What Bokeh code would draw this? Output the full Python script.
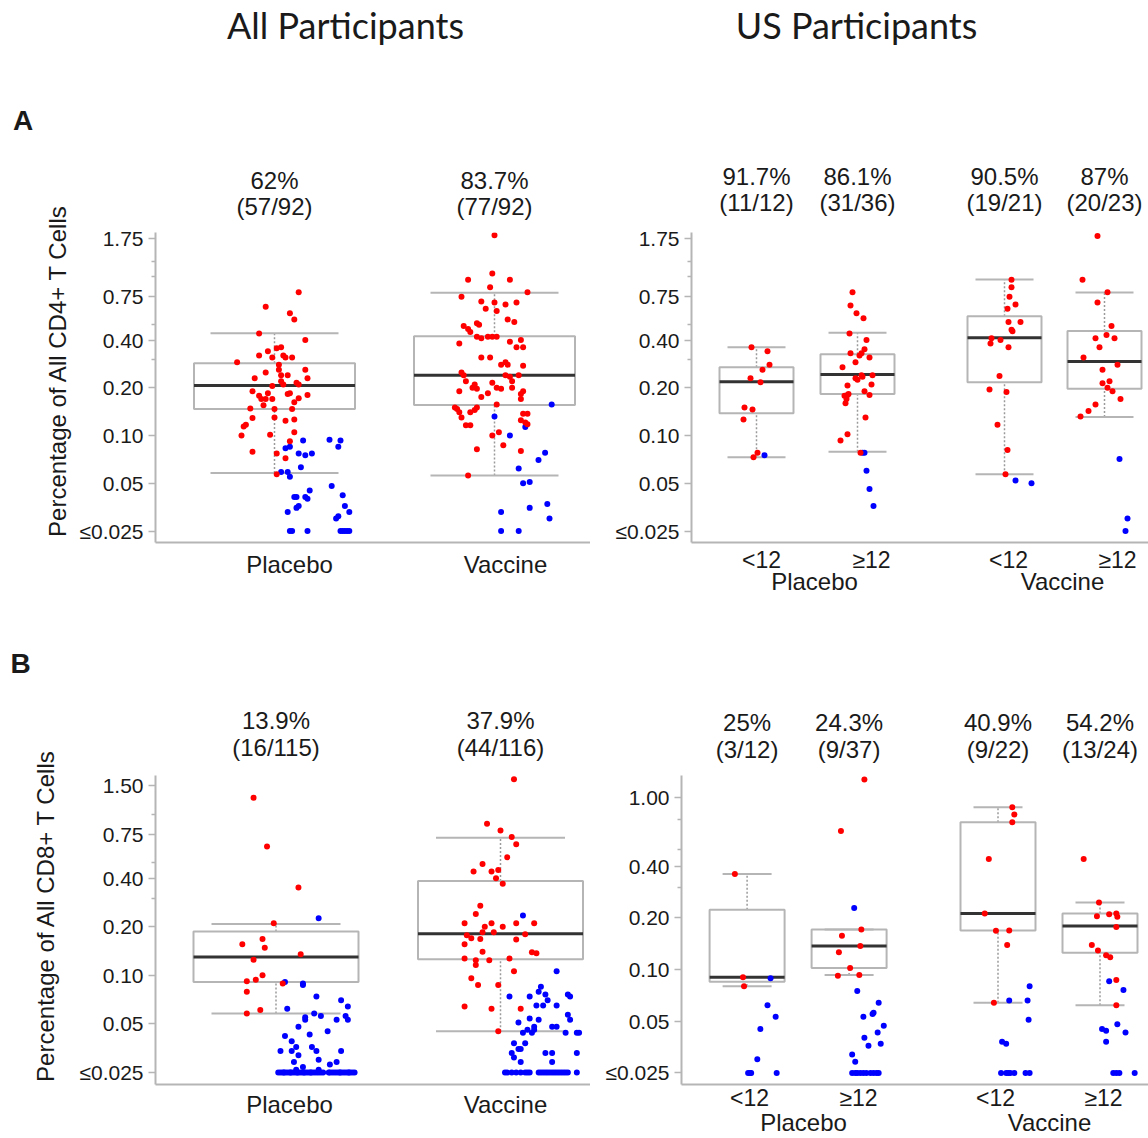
import math
from bokeh.plotting import figure
from bokeh.layouts import column, row
from bokeh.models import FixedTicker, CustomJSTickFormatter, Range1d, ColumnDataSource, LinearAxis
from bokeh.core.properties import value
from bokeh.embed import file_html
from bokeh.resources import INLINE

# ======================= DATA =======================
FLOOR = 0.025  # values at or below the limit are shown at 0.025

# ---- A: CD4+, all participants ----
cd4_all_groups = ["Placebo", "Vaccine"]
cd4_all_pct = ["62%", "83.7%"]
cd4_all_frac = ["(57/92)", "(77/92)"]
cd4_all_q1 = [0.147, 0.156]
cd4_all_med = [0.207, 0.240]
cd4_all_q3 = [0.286, 0.423]
cd4_all_lo = [0.058, 0.056]
cd4_all_hi = [0.442, 0.794]
# (jitter in category widths, value)
cd4_all_placebo_resp = [(0.11,0.80),(-0.04,0.65),(0.07,0.59),(0.09,0.54),(-0.07,0.44),(0.14,0.40),(0.03,0.36),(0.01,0.355),
    (-0.07,0.32),(-0.03,0.34),(-0.01,0.31),(0.04,0.32),(0.05,0.31),(0.08,0.31),(-0.17,0.29),(0.02,0.28),(0.14,0.26),
    (-0.04,0.25),(-0.09,0.23),(0.03,0.24),(0.06,0.24),(0.15,0.23),(0.03,0.22),(0.10,0.215),(0.11,0.21),(-0.01,0.205),
    (-0.10,0.19),(-0.06,0.17),(-0.03,0.185),(-0.04,0.17),(-0.01,0.17),(-0.05,0.155),(0.06,0.183),(0.07,0.185),(0.15,0.18),
    (0.11,0.172),(-0.11,0.148),(0.08,0.147),(0.00,0.147),(-0.10,0.129),(0.00,0.13),(0.05,0.124),(0.09,0.126),(-0.13,0.117),
    (-0.14,0.114),(-0.15,0.100),(-0.02,0.101),(0.09,0.105),(0.07,0.092),(-0.10,0.079),(0.01,0.077),(0.05,0.072),(0.01,0.057),
    (0.04,0.21),(0.02,0.26),(-0.07,0.178),(0.09,0.162)]
cd4_all_placebo_nonresp = [(0.13,0.093),(0.07,0.085),(0.05,0.083),(0.11,0.077),(0.14,0.075),(0.17,0.077),(0.12,0.063),
    (0.03,0.059),(0.06,0.059),(0.07,0.055),(0.25,0.094),(0.30,0.093),(0.29,0.085),(0.26,0.048),(0.16,0.045),(0.09,0.041),
    (0.10,0.041),(0.14,0.041),(0.15,0.040),(0.31,0.042),(0.11,0.036),(0.10,0.035),(0.06,0.033),(0.32,0.036),(0.34,0.033),
    (0.29,0.031),(0.28,0.030)]
cd4_all_placebo_floor = [0.07, 0.08, 0.15, 0.30, 0.31, 0.32, 0.33, 0.34]
cd4_all_vaccine_resp = [(0.00,1.83),(-0.01,1.05),(-0.12,0.96),(0.07,0.96),(-0.02,0.86),(-0.15,0.75),(0.15,0.80),(-0.06,0.70),
    (-0.04,0.63),(0.00,0.69),(0.01,0.61),(0.05,0.67),(0.10,0.69),(0.06,0.54),(0.09,0.52),(-0.14,0.49),(-0.12,0.47),
    (-0.08,0.51),(-0.07,0.50),(-0.11,0.45),(-0.08,0.42),(-0.06,0.41),(-0.03,0.42),(-0.01,0.42),(0.01,0.42),(-0.16,0.38),
    (0.07,0.39),(0.12,0.40),(0.10,0.36),(0.13,0.36),(-0.06,0.31),(-0.02,0.31),(0.05,0.29),(0.06,0.28),(0.13,0.275),
    (-0.15,0.25),(-0.14,0.24),(0.05,0.24),(0.07,0.235),(0.08,0.22),(-0.01,0.215),(-0.09,0.21),(-0.08,0.197),(-0.10,0.20),
    (0.01,0.20),(0.03,0.197),(0.08,0.20),(-0.16,0.19),(0.13,0.19),(0.12,0.183),(-0.03,0.185),(-0.06,0.175),(0.12,0.17),
    (0.01,0.157),(-0.08,0.150),(-0.09,0.145),(-0.17,0.147),(-0.16,0.14),(-0.11,0.14),(0.13,0.137),(0.15,0.137),(-0.15,0.13),
    (0.12,0.125),(0.14,0.121),(0.15,0.118),(-0.13,0.116),(-0.11,0.116),(0.02,0.105),(-0.01,0.10),(0.04,0.087),(-0.08,0.082),
    (0.12,0.080),(-0.12,0.056),(-0.13,0.22),(0.03,0.28),(-0.18,0.15),(0.11,0.24)]
cd4_all_vaccine_nonresp = [(0.00,0.132),(0.26,0.157),(0.14,0.113),(0.07,0.100),(0.23,0.078),(0.20,0.070),(0.11,0.062),
    (0.13,0.050),(0.16,0.051),(0.03,0.033),(0.16,0.035),(0.24,0.037),(0.25,0.030)]
cd4_all_vaccine_floor = [0.03, 0.11]

# ---- A: CD4+, US participants by age ----
cd4_us_sub = ["<12", "\u226512", "<12", "\u226512"]
cd4_us_groups = ["Placebo", "Vaccine"]
cd4_us_pct = ["91.7%", "86.1%", "90.5%", "87%"]
cd4_us_frac = ["(11/12)", "(31/36)", "(19/21)", "(20/23)"]
cd4_us_q1 = [0.138, 0.183, 0.217, 0.197]
cd4_us_med = [0.218, 0.243, 0.413, 0.293]
cd4_us_q3 = [0.270, 0.325, 0.566, 0.456]
cd4_us_lo = [0.073, 0.079, 0.057, 0.131]
cd4_us_hi = [0.360, 0.445, 0.964, 0.798]
cd4_us_p_lt12_resp = [(-0.05,0.36),(0.11,0.34),(0.13,0.28),(0.06,0.26),(-0.06,0.23),(0.04,0.217),(-0.12,0.15),(-0.04,0.146),
    (-0.13,0.126),(0.01,0.078),(-0.03,0.073)]
cd4_us_p_lt12_nonresp = [(0.08,0.075)]
cd4_us_p_ge12_resp = [(-0.05,0.80),(-0.07,0.66),(-0.01,0.59),(0.06,0.55),(-0.08,0.44),(0.09,0.40),(0.07,0.35),(-0.07,0.33),
    (0.02,0.32),(0.04,0.33),(0.12,0.31),(-0.15,0.27),(-0.02,0.29),(0.04,0.24),(-0.02,0.23),(0.15,0.24),(0.14,0.21),
    (-0.10,0.207),(0.00,0.225),(0.07,0.19),(-0.09,0.183),(-0.10,0.18),(0.12,0.18),(-0.11,0.17),(-0.12,0.16),(0.08,0.13),
    (-0.10,0.102),(-0.17,0.093),(0.03,0.078),(-0.13,0.178),(0.05,0.235)]
cd4_us_p_ge12_nonresp = [(0.07,0.078),(0.09,0.060),(0.12,0.046),(0.16,0.036),(0.05,0.078)]
cd4_us_v_lt12_resp = [(0.07,0.96),(0.07,0.86),(0.05,0.75),(0.11,0.67),(0.03,0.63),(0.04,0.52),(0.16,0.52),(0.07,0.465),
    (0.08,0.455),(-0.13,0.41),(-0.04,0.40),(-0.14,0.38),(0.04,0.36),(-0.05,0.237),(-0.15,0.195),(0.02,0.188),(-0.07,0.117),
    (0.03,0.081),(0.01,0.057)]
cd4_us_v_lt12_nonresp = [(0.11,0.052),(0.27,0.050)]
cd4_us_v_ge12_resp = [(-0.07,1.81),(-0.22,0.96),(0.03,0.80),(-0.07,0.69),(0.07,0.49),(0.02,0.43),(-0.09,0.41),(0.10,0.41),
    (-0.05,0.36),(-0.21,0.31),(0.13,0.28),(-0.02,0.26),(0.05,0.22),(-0.02,0.214),(0.03,0.20),(0.08,0.19),(0.16,0.17),
    (-0.09,0.157),(-0.16,0.143),(-0.24,0.132)]
cd4_us_v_ge12_nonresp = [(0.15,0.071),(0.23,0.030)]
cd4_us_v_ge12_floor = [0.21]

# ---- B: CD8+, all participants ----
cd8_all_groups = ["Placebo", "Vaccine"]
cd8_all_pct = ["13.9%", "37.9%"]
cd8_all_frac = ["(16/115)", "(44/116)"]
cd8_all_q1 = [0.091, 0.126]
cd8_all_med = [0.130, 0.181]
cd8_all_q3 = [0.187, 0.385]
cd8_all_lo = [0.058, 0.045]
cd8_all_hi = [0.208, 0.712]
cd8_all_placebo_resp = [(-0.10,1.26),(-0.04,0.63),(0.10,0.35),(-0.01,0.21),(-0.15,0.156),(-0.06,0.168),(-0.05,0.148),
    (0.11,0.135),(-0.10,0.125),(-0.13,0.092),(-0.09,0.094),(-0.06,0.100),(-0.13,0.079),(0.03,0.089),(-0.13,0.058),(-0.07,0.061)]
cd8_all_placebo_nonresp = [(0.19,0.226),(0.04,0.091),(0.12,0.087),(0.12,0.089),(0.18,0.074),(0.29,0.070),(0.32,0.064),
    (0.05,0.062),(0.13,0.055),(0.17,0.058),(0.20,0.056),(0.13,0.053),(0.27,0.053),(0.31,0.056),(0.32,0.053),(0.10,0.048),
    (0.23,0.045),(0.04,0.042),(0.15,0.043),(0.07,0.039),(0.09,0.036),(0.02,0.034),(0.07,0.034),(0.16,0.036),(0.18,0.034),
    (0.29,0.034),(0.10,0.032),(0.08,0.029),(0.19,0.030),(0.12,0.027),(0.24,0.028),(0.27,0.029),(0.09,0.026),(0.19,0.026)]
cd8_all_placebo_floor = [0.01,0.02,0.03,0.035,0.04,0.05,0.06,0.065,0.07,0.08,0.09,0.095,0.10,0.11,0.12,0.125,0.13,0.14,
    0.15,0.155,0.16,0.17,0.18,0.19,0.20,0.21,0.235,0.24,0.25,0.26,0.27,0.28,0.285,0.29,0.30,0.31,0.32,0.325,0.33,0.34,0.35]
cd8_all_vaccine_resp = [(0.06,1.64),(-0.06,0.87),(0.00,0.79),(0.05,0.72),(0.07,0.65),(0.03,0.54),(-0.08,0.49),(-0.12,0.44),
    (-0.04,0.44),(-0.01,0.45),(-0.02,0.40),(0.01,0.37),(-0.09,0.27),(-0.11,0.24),(-0.16,0.21),(-0.07,0.20),(-0.04,0.21),
    (0.01,0.20),(0.07,0.21),(0.15,0.21),(-0.08,0.185),(-0.03,0.185),(0.11,0.18),(-0.15,0.177),(-0.13,0.170),(-0.09,0.168),
    (-0.16,0.156),(0.07,0.167),(-0.08,0.140),(0.14,0.139),(0.16,0.137),(-0.16,0.127),(-0.11,0.124),(-0.05,0.124),
    (0.04,0.127),(-0.11,0.116),(0.06,0.106),(-0.13,0.096),(-0.10,0.087),(-0.01,0.087),(-0.16,0.064),(-0.04,0.062),
    (0.09,0.062),(-0.01,0.045)]
cd8_all_vaccine_nonresp = [(0.10,0.235),(0.25,0.106),(0.18,0.085),(0.20,0.076),(0.30,0.076),(0.31,0.074),(0.04,0.074),
    (0.13,0.074),(0.17,0.079),(0.16,0.065),(0.19,0.065),(0.21,0.070),(0.25,0.065),(0.30,0.057),(0.31,0.053),(0.08,0.051),
    (0.13,0.054),(0.17,0.053),(0.15,0.048),(0.23,0.048),(0.25,0.048),(0.12,0.046),(0.10,0.044),(0.14,0.044),(0.15,0.046),
    (0.34,0.044),(0.35,0.044),(0.29,0.044),(0.06,0.038),(0.11,0.038),(0.08,0.035),(0.09,0.035),(0.05,0.033),(0.06,0.031),
    (0.09,0.029),(0.20,0.033),(0.23,0.033),(0.23,0.029),(0.34,0.033)]
cd8_all_vaccine_floor = [0.02,0.03,0.05,0.07,0.09,0.11,0.12,0.13,0.17,0.18,0.19,0.20,0.21,0.22,0.23,0.24,0.25,0.26,
    0.27,0.28,0.29,0.30,0.34]

# ---- B: CD8+, US participants by age ----
cd8_us_sub = ["<12", "\u226512", "<12", "\u226512"]
cd8_us_groups = ["Placebo", "Vaccine"]
cd8_us_pct = ["25%", "24.3%", "40.9%", "54.2%"]
cd8_us_frac = ["(3/12)", "(9/37)", "(9/22)", "(13/24)"]
cd8_us_q1 = [0.085, 0.102, 0.169, 0.125]
cd8_us_med = [0.090, 0.137, 0.212, 0.179]
cd8_us_q3 = [0.223, 0.171, 0.720, 0.212]
cd8_us_lo = [0.080, 0.093, 0.064, 0.062]
cd8_us_hi = [0.360, 0.171, 0.880, 0.246]
cd8_us_p_lt12_resp = [(-0.12,0.36),(-0.04,0.090),(-0.03,0.080)]
cd8_us_p_lt12_nonresp = [(0.23,0.089),(0.20,0.062),(0.28,0.053),(0.13,0.045),(0.10,0.030)]
cd8_us_p_lt12_floor = [0.01,0.03,0.04,0.29]
cd8_us_p_ge12_resp = [(0.15,1.28),(-0.08,0.64),(0.12,0.171),(-0.07,0.157),(0.11,0.137),(-0.10,0.126),(0.01,0.102),
    (-0.11,0.092),(0.10,0.093)]
cd8_us_p_ge12_nonresp = [(0.05,0.228),(0.08,0.075),(0.29,0.064),(0.14,0.053),(0.23,0.055),(0.24,0.056),(0.34,0.047),
    (0.28,0.043),(0.15,0.040),(0.19,0.036),(0.31,0.037),(0.03,0.032),(0.06,0.029)]
cd8_us_p_ge12_floor = [0.03,0.06,0.08,0.11,0.14,0.17,0.21,0.24,0.27,0.29]
cd8_us_v_lt12_resp = [(0.14,0.88),(0.16,0.80),(0.14,0.72),(-0.09,0.44),(-0.13,0.212),(-0.02,0.168),(0.11,0.169),
    (0.09,0.139),(-0.04,0.064)]
cd8_us_v_lt12_nonresp = [(0.31,0.080),(0.11,0.066),(0.29,0.066),(0.30,0.051),(0.04,0.038),(0.08,0.037)]
cd8_us_v_lt12_floor = [0.03,0.08,0.10,0.12,0.16,0.27,0.31]
cd8_us_v_ge12_resp = [(-0.16,0.44),(-0.01,0.246),(-0.03,0.204),(0.09,0.21),(0.16,0.212),(0.17,0.203),(0.16,0.177),
    (-0.08,0.139),(-0.02,0.129),(0.06,0.121),(0.10,0.118),(0.16,0.087),(0.16,0.062)]
cd8_us_v_ge12_nonresp = [(0.09,0.0855),(0.23,0.076),(0.02,0.045),(0.06,0.044),(0.17,0.048),(0.25,0.043),(0.06,0.038)]
cd8_us_v_ge12_floor = [0.13,0.16,0.19,0.34]

# y-axis ticks
cd4_ticks = [0.025, 0.05, 0.1, 0.2, 0.4, 0.75, 1.75]
cd4_minor = [0.3, 0.5, 1.0, 1.25]
cd8_all_ticks = [0.025, 0.05, 0.1, 0.2, 0.4, 0.75, 1.5]
cd8_all_minor = [0.3, 0.5, 1.0]
cd8_us_ticks = [0.025, 0.05, 0.1, 0.2, 0.4, 1.0]
cd8_us_minor = [0.3, 0.5, 0.75]

titles = ["All Participants", "US Participants"]
panel_letters = ["A", "B"]
ylabels = ["Percentage of All CD4+ T Cells", "Percentage of All CD8+ T Cells"]

# ======================= STYLE / LAYOUT =======================
FONT = "Liberation Sans"
HFONT = "Lato"
TXT = "#1a1a1a"
GRAY = "#b5b5b5"
RED = "#ff0000"
BLUE = "#0000ff"
W, H = 1148, 1138

fmt_code = """
if (tick < 0.03) { return "\\u22640.025"; }
return tick.toFixed(2);
"""
lab_code = "return labels[index];"


def blank(x0, x1, y0, y1):
    """A text-only figure whose data coordinates are page pixels."""
    f = figure(width=x1 - x0, height=y1 - y0, x_range=Range1d(x0, x1), y_range=Range1d(y1, y0),
               x_axis_type=None, y_axis_type=None, output_backend="svg", toolbar_location=None,
               min_border_left=0, min_border_right=0, min_border_top=0, min_border_bottom=0)
    f.outline_line_color = None
    f.grid.visible = False
    f.background_fill_color = "white"
    f.border_fill_color = "white"
    return f


def put_text(f, text, x, y, size, font=FONT, style="normal", angle=0.0):
    f.text(x=[x], y=[y], text=[text], text_font=value(font), text_font_size=value(f"{size}px"),
           text_font_style=style, text_align="center", text_baseline="middle", angle=angle,
           text_color=TXT)


def make_panel(fig_left, fig_top, width, height, frame, yref, ymap, cat_px, unit,
               box_px, whisk_px, ticks, minor, stats, groups,
               xlabels, xlabel_px, xlabel_size, xlabel_standoff,
               grp_labels=None, grp_px=None, grp_standoff=0):
    L, R, T, B = frame          # actual frame on the page
    yt, yb = yref               # reference-picture pixel span mapped onto the frame
    v0, p0, k = ymap
    X = lambda px: 1 + (px - cat_px[0]) / unit
    Y = lambda py: v0 * math.exp((p0 - py) / k)

    p = figure(width=width, height=height,
               x_range=Range1d(X(L), X(R)), y_range=Range1d(Y(yb), Y(yt)),
               y_axis_type="log", output_backend="svg", toolbar_location=None,
               min_border_left=L - fig_left, min_border_right=fig_left + width - R,
               min_border_top=T - fig_top, min_border_bottom=fig_top + height - B)
    p.outline_line_color = None
    p.grid.visible = False
    p.background_fill_color = "white"
    p.border_fill_color = "white"

    ya = p.yaxis[0]
    ya.ticker = FixedTicker(ticks=ticks, minor_ticks=minor)
    ya.formatter = CustomJSTickFormatter(code=fmt_code)
    ya.axis_line_color = GRAY
    ya.axis_line_width = 2
    ya.major_tick_line_color = GRAY
    ya.major_tick_line_width = 1.5
    ya.minor_tick_line_color = GRAY
    ya.minor_tick_line_width = 1.5
    ya.major_tick_out = 7
    ya.major_tick_in = 0
    ya.minor_tick_out = 4
    ya.minor_tick_in = 0
    ya.major_label_standoff = 5
    ya.major_label_text_font = FONT
    ya.major_label_text_font_size = "21px"
    ya.major_label_text_color = TXT

    xa = p.xaxis[0]
    xa.ticker = FixedTicker(ticks=[X(px) for px in xlabel_px])
    xa.formatter = CustomJSTickFormatter(args=dict(labels=xlabels), code=lab_code)
    xa.axis_line_color = GRAY
    xa.axis_line_width = 2
    xa.major_tick_line_color = None
    xa.minor_tick_line_color = None
    xa.major_tick_out = 0
    xa.major_tick_in = 0
    xa.major_label_standoff = xlabel_standoff
    xa.major_label_text_font = FONT
    xa.major_label_text_font_size = f"{xlabel_size}px"
    xa.major_label_text_color = TXT

    if grp_labels:
        ax2 = LinearAxis(ticker=FixedTicker(ticks=[X(px) for px in grp_px]),
                         formatter=CustomJSTickFormatter(args=dict(labels=grp_labels), code=lab_code),
                         axis_line_color=None, major_tick_line_color=None, minor_tick_line_color=None,
                         major_tick_out=0, major_tick_in=0, major_label_standoff=grp_standoff,
                         major_label_text_font=FONT, major_label_text_font_size="24px",
                         major_label_text_color=TXT)
        p.add_layout(ax2, "below")

    # boxes
    xc = [X(c) for c in cat_px]
    q1, med, q3, lo, hi = stats
    bw = box_px / unit / 2
    ww = whisk_px / unit / 2
    src = ColumnDataSource(dict(x=xc, q1=q1, med=med, q3=q3, lo=lo, hi=hi,
                                bl=[x - bw for x in xc], br=[x + bw for x in xc],
                                wl=[x - ww for x in xc], wr=[x + ww for x in xc]))
    p.segment("x", "q3", "x", "hi", source=src, line_color="#9a9a9a", line_width=1.5, line_dash="2 2")
    p.segment("x", "lo", "x", "q1", source=src, line_color="#9a9a9a", line_width=1.5, line_dash="2 2")
    p.segment("wl", "hi", "wr", "hi", source=src, line_color=GRAY, line_width=2)
    p.segment("wl", "lo", "wr", "lo", source=src, line_color=GRAY, line_width=2)
    p.quad(left="bl", right="br", bottom="q1", top="q3", source=src,
           fill_color=None, line_color=GRAY, line_width=2)
    p.segment("bl", "med", "br", "med", source=src, line_color="#333333", line_width=3)

    # points
    for i, (resp, nonresp, floor) in enumerate(groups):
        bx = [xc[i] + j for j, v in nonresp] + [xc[i] + j for j in floor]
        by = [v for j, v in nonresp] + [FLOOR for j in floor]
        p.scatter(bx, by, size=6, fill_color=BLUE, line_color=None)
        rx = [xc[i] + j for j, v in resp]
        ry = [v for j, v in resp]
        p.scatter(rx, ry, size=6, fill_color=RED, line_color=None)
    return p


# ---------------- Row A ----------------
ROW_A = (0, 600)
BAND_A = 226
tl_cats = [274, 494]
tr_cats = [756, 857, 1004, 1104]

stripA = blank(0, 75, ROW_A[0], ROW_A[1])
put_text(stripA, panel_letters[0], 22.5, 120, 28, FONT, "bold")
put_text(stripA, ylabels[0], 57, 370, 24, FONT, "normal", math.pi / 2)

bandA = blank(75, W, ROW_A[0], BAND_A)
put_text(bandA, titles[0], 345, 24, 36, HFONT)
put_text(bandA, titles[1], 856, 24, 36, HFONT)
for i in range(2):
    put_text(bandA, cd4_all_pct[i], tl_cats[i], 180, 24)
    put_text(bandA, cd4_all_frac[i], tl_cats[i], 206, 24)
for i in range(4):
    put_text(bandA, cd4_us_pct[i], tr_cats[i], 176, 24)
    put_text(bandA, cd4_us_frac[i], tr_cats[i], 202, 24)

pA1 = make_panel(75, BAND_A, 515, ROW_A[1] - BAND_A, (155, 590, 232, 542), (232, 542),
                 (0.2, 387.3, 68.87), tl_cats, 220,
                 161, 128, cd4_ticks, cd4_minor,
                 (cd4_all_q1, cd4_all_med, cd4_all_q3, cd4_all_lo, cd4_all_hi),
                 [(cd4_all_placebo_resp, cd4_all_placebo_nonresp, cd4_all_placebo_floor),
                  (cd4_all_vaccine_resp, cd4_all_vaccine_nonresp, cd4_all_vaccine_floor)],
                 cd4_all_groups, [289, 505], 24, 8)

pA2 = make_panel(590, BAND_A, W - 590, ROW_A[1] - BAND_A, (691, W, 232, 542), (232, 542),
                 (0.2, 387.3, 68.87), tr_cats, 100,
                 74, 58, cd4_ticks, cd4_minor,
                 (cd4_us_q1, cd4_us_med, cd4_us_q3, cd4_us_lo, cd4_us_hi),
                 [(cd4_us_p_lt12_resp, cd4_us_p_lt12_nonresp, []),
                  (cd4_us_p_ge12_resp, cd4_us_p_ge12_nonresp, []),
                  (cd4_us_v_lt12_resp, cd4_us_v_lt12_nonresp, []),
                  (cd4_us_v_ge12_resp, cd4_us_v_ge12_nonresp, cd4_us_v_ge12_floor)],
                 cd4_us_sub, [761, 871, 1008, 1117], 23, 4,
                 cd4_us_groups, [814, 1062], -8)

# ---------------- Row B ----------------
ROW_B = (600, H)
BAND_B = 767
FRAME_B = (775, 1084)     # shared frame top/bottom of the two lower panels
bl_cats = [275.5, 500]
br_cats = [746.6, 848.6, 997.5, 1099.5]

stripB = blank(0, 75, ROW_B[0], ROW_B[1])
put_text(stripB, panel_letters[1], 20, 663, 28, FONT, "bold")
put_text(stripB, ylabels[1], 45, 915, 24, FONT, "normal", math.pi / 2)

bandB = blank(75, W, ROW_B[0], BAND_B)
for i in range(2):
    put_text(bandB, cd8_all_pct[i], bl_cats[i], 720, 24)
    put_text(bandB, cd8_all_frac[i], bl_cats[i], 747, 24)
for i in range(4):
    put_text(bandB, cd8_us_pct[i], br_cats[i], 722, 24)
    put_text(bandB, cd8_us_frac[i], br_cats[i], 749, 24)

pB1 = make_panel(75, BAND_B, 515, ROW_B[1] - BAND_B, (155, 590, FRAME_B[0], FRAME_B[1]), (773, 1089),
                 (0.2, 927.7, 71.65), bl_cats, 224.5,
                 165, 129, cd8_all_ticks, cd8_all_minor,
                 (cd8_all_q1, cd8_all_med, cd8_all_q3, cd8_all_lo, cd8_all_hi),
                 [(cd8_all_placebo_resp, cd8_all_placebo_nonresp, cd8_all_placebo_floor),
                  (cd8_all_vaccine_resp, cd8_all_vaccine_nonresp, cd8_all_vaccine_floor)],
                 cd8_all_groups, [289, 505], 24, 6)

pB2 = make_panel(590, BAND_B, W - 590, ROW_B[1] - BAND_B, (681, W, FRAME_B[0], FRAME_B[1]), (778, 1090),
                 (0.2, 921.7, 75.3), br_cats, 102,
                 75, 49, cd8_us_ticks, cd8_us_minor,
                 (cd8_us_q1, cd8_us_med, cd8_us_q3, cd8_us_lo, cd8_us_hi),
                 [(cd8_us_p_lt12_resp, cd8_us_p_lt12_nonresp, cd8_us_p_lt12_floor),
                  (cd8_us_p_ge12_resp, cd8_us_p_ge12_nonresp, cd8_us_p_ge12_floor),
                  (cd8_us_v_lt12_resp, cd8_us_v_lt12_nonresp, cd8_us_v_lt12_floor),
                  (cd8_us_v_ge12_resp, cd8_us_v_ge12_nonresp, cd8_us_v_ge12_floor)],
                 cd8_us_sub, [749, 858, 995, 1103], 23, 0,
                 cd8_us_groups, [803, 1049], -5)

layout = column(
    row(stripA, column(bandA, row(pA1, pA2))),
    row(stripB, column(bandB, row(pB1, pB2))),
)
open("out.html", "w", encoding="utf-8").write(file_html(layout, INLINE))
